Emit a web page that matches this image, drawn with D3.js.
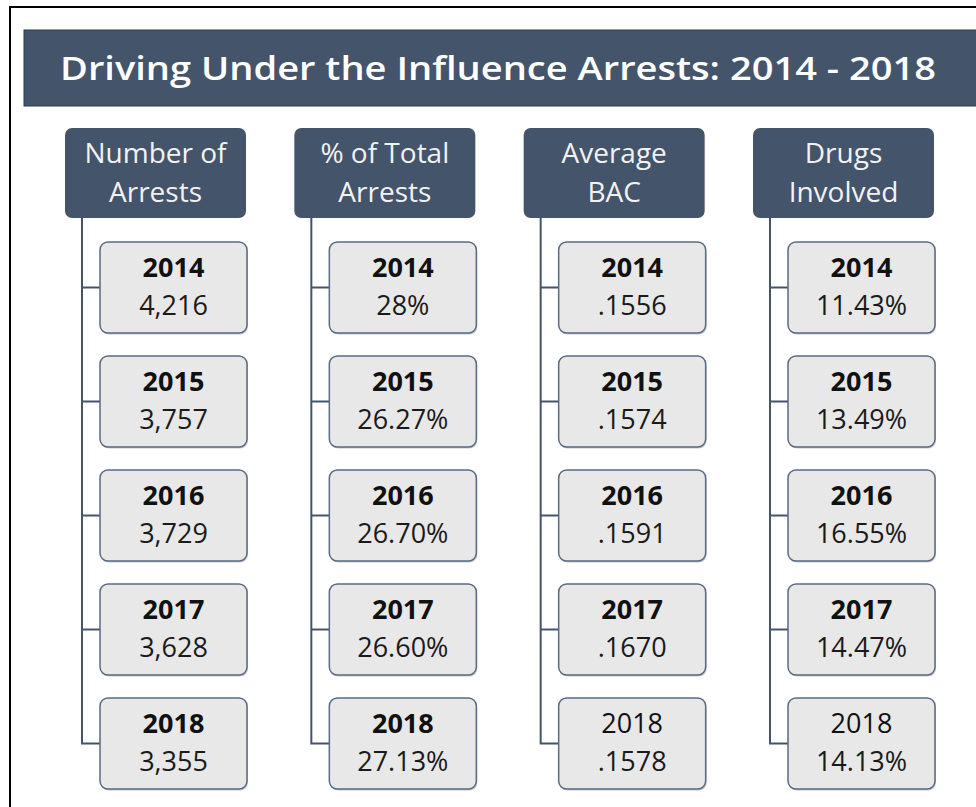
<!DOCTYPE html>
<html>
<head>
<meta charset="utf-8">
<script src="https://cdn.jsdelivr.net/npm/d3@7"></script>
<style>
  body { margin: 0; background: #fff; }
  svg { display: block; }
  text { font-family: "Open Sans", sans-serif; }
</style>
</head>
<body>
<svg width="976" height="807"></svg>
<script>
// data
var title = 'Driving Under the Influence Arrests: 2014 - 2018';
var columns = ['Number of Arrests', '% of Total Arrests', 'Average BAC', 'Drugs Involved'];
var headerLines = [['Number of', 'Arrests'], ['% of Total', 'Arrests'], ['Average', 'BAC'], ['Drugs', 'Involved']];
var years = ['2014', '2015', '2016', '2017', '2018'];
var arrests = ['4,216', '3,757', '3,729', '3,628', '3,355'];
var pctTotal = ['28%', '26.27%', '26.70%', '26.60%', '27.13%'];
var avgBac = ['.1556', '.1574', '.1591', '.1670', '.1578'];
var drugs = ['11.43%', '13.49%', '16.55%', '14.47%', '14.13%'];
// last year label is not bold in the last two columns
var lastYearBold = [true, true, false, false];

var series = [arrests, pctTotal, avgBac, drugs];
var navy = '#44546a';

var svg = d3.select('svg');

// outer frame
svg.append('path')
  .attr('d', 'M10,807 L10,7 L976,7')
  .attr('fill', 'none')
  .attr('stroke', '#000')
  .attr('stroke-width', 2);

// title bar
svg.append('rect')
  .attr('x', 24).attr('y', 30)
  .attr('width', 960).attr('height', 76)
  .attr('fill', navy)
  .attr('stroke', '#2f3b4c').attr('stroke-width', 1);

svg.append('text')
  .attr('x', 60).attr('y', 80)
  .attr('fill', '#fff')
  .attr('font-size', 33)
  .attr('font-weight', 600)
  .attr('textLength', 876)
  .attr('lengthAdjust', 'spacingAndGlyphs')
  .text(title);

// scales
var colScale = d3.scalePoint().domain(columns).range([65, 753]);
var yearScale = d3.scalePoint().domain(years).range([242, 698]);

var headerW = 181, headerH = 90, headerY = 128;
var boxW = 147, boxH = 91;

var cols = svg.selectAll('g.col')
  .data(columns)
  .enter()
  .append('g')
  .attr('class', 'col')
  .attr('transform', d => 'translate(' + colScale(d) + ',0)');

// connector lines
cols.append('path')
  .attr('d', 'M17,' + (headerY + headerH) + ' L17,' + (yearScale('2018') + boxH / 2) + ' L35,' + (yearScale('2018') + boxH / 2))
  .attr('fill', 'none')
  .attr('stroke', navy)
  .attr('stroke-width', 2);

cols.each(function(c, ci) {
  var g = d3.select(this);
  years.slice(0, -1).forEach(function(y) {
    g.append('line')
      .attr('x1', 17).attr('x2', 35)
      .attr('y1', yearScale(y) + boxH / 2).attr('y2', yearScale(y) + boxH / 2)
      .attr('stroke', navy).attr('stroke-width', 2);
  });
});

// header boxes
cols.append('rect')
  .attr('x', 0).attr('y', headerY)
  .attr('width', headerW).attr('height', headerH)
  .attr('rx', 7)
  .attr('fill', navy);

cols.each(function(c, ci) {
  var g = d3.select(this);
  headerLines[ci].forEach(function(line, li) {
    g.append('text')
      .attr('x', headerW / 2)
      .attr('y', headerY + 35 + li * 39)
      .attr('text-anchor', 'middle')
      .attr('fill', '#f2f2f2')
      .attr('font-size', 28)
      .text(line);
  });
});

// value boxes
cols.each(function(c, ci) {
  var g = d3.select(this);
  var boxes = g.selectAll('g.box')
    .data(years.map((y, i) => ({year: y, value: series[ci][i], bold: i < years.length - 1 || lastYearBold[ci]})))
    .enter()
    .append('g')
    .attr('class', 'box')
    .attr('transform', d => 'translate(35,' + yearScale(d.year) + ')');

  // soft shadow
  boxes.append('rect')
    .attr('x', 1).attr('y', 1.5)
    .attr('width', boxW).attr('height', boxH)
    .attr('rx', 8)
    .attr('fill', '#c4c8cf');

  boxes.append('rect')
    .attr('width', boxW).attr('height', boxH)
    .attr('rx', 8)
    .attr('fill', '#e8e8e8')
    .attr('stroke', '#5a6a82')
    .attr('stroke-width', 1.5);

  boxes.append('text')
    .attr('x', boxW / 2).attr('y', 35)
    .attr('text-anchor', 'middle')
    .attr('fill', '#111')
    .attr('font-size', 27)
    .attr('font-weight', d => d.bold ? 700 : 400)
    .text(d => d.year);

  boxes.append('text')
    .attr('x', boxW / 2).attr('y', 73)
    .attr('text-anchor', 'middle')
    .attr('fill', '#1a1a1a')
    .attr('font-size', 27)
    .text(d => d.value);
});
</script>
</body>
</html>
